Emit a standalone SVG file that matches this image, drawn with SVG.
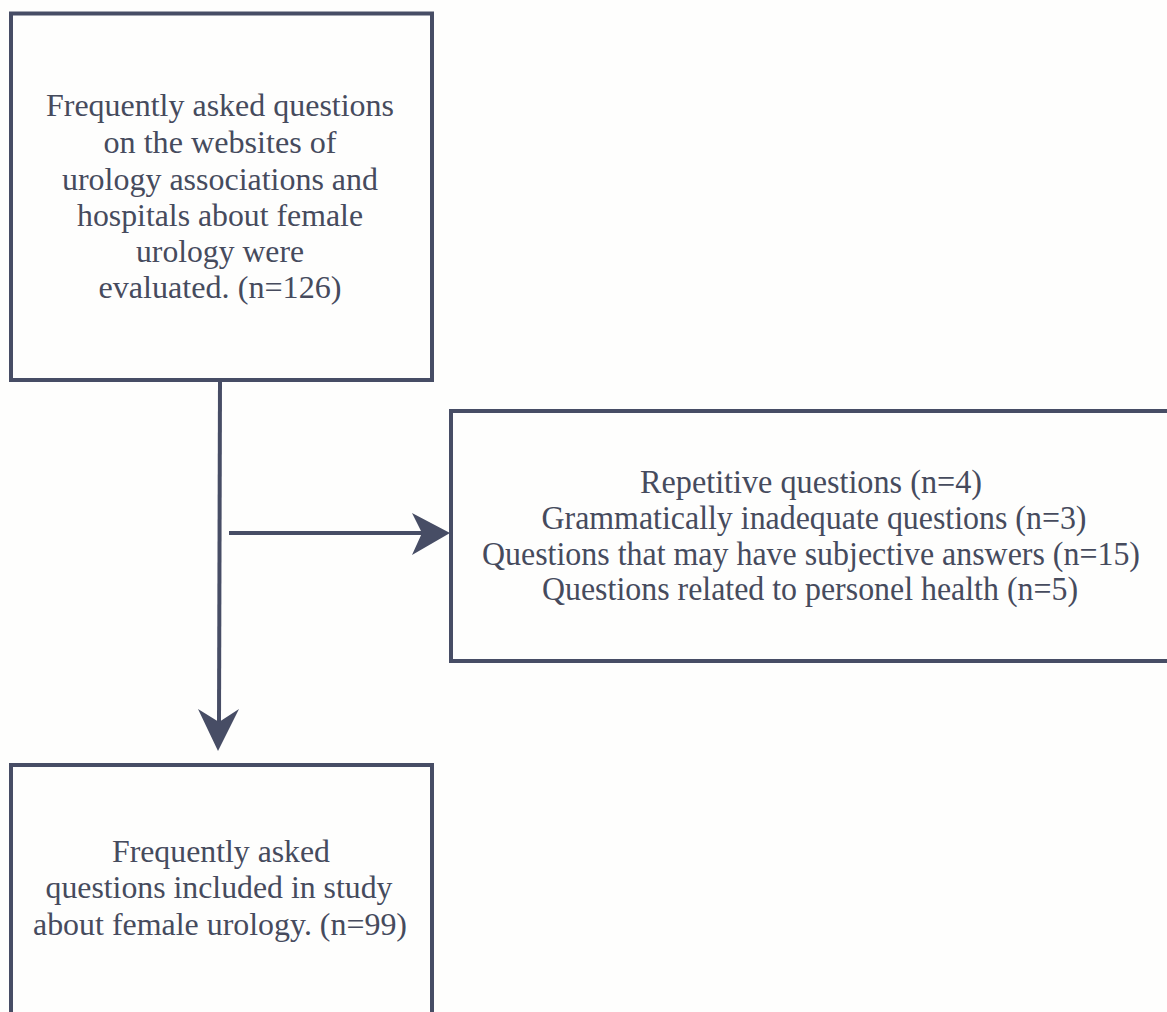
<svg xmlns="http://www.w3.org/2000/svg" width="1167" height="1012" viewBox="0 0 1167 1012">
<style>
.box{fill:#fefefd;stroke:#474d65;stroke-width:4}
.ln{stroke:#474d65;stroke-width:4;fill:none}
.hd{fill:#474d65;stroke:none}
</style>
<rect width="1167" height="1012" fill="#fefefd"/>
<g id="node-start">
<rect class="box" x="11" y="13.5" width="421" height="366.5"/>
<g font-family="Liberation Serif" font-size="31" fill="#464b5d" text-anchor="middle">
<text x="220" y="116" textLength="348" lengthAdjust="spacingAndGlyphs">Frequently asked questions</text>
<text x="220" y="153" textLength="233" lengthAdjust="spacingAndGlyphs">on the websites of</text>
<text x="220" y="190" textLength="316" lengthAdjust="spacingAndGlyphs">urology associations and</text>
<text x="220" y="226" textLength="286" lengthAdjust="spacingAndGlyphs">hospitals about female</text>
<text x="220" y="262" textLength="168" lengthAdjust="spacingAndGlyphs">urology were</text>
<text x="220" y="298" textLength="243" lengthAdjust="spacingAndGlyphs">evaluated. (n=126)</text>
</g>
</g>
<g id="node-excluded">
<rect class="box" x="451" y="411" width="730" height="250"/>
<g font-family="Liberation Serif" font-size="33" fill="#464b5d" text-anchor="middle">
<text x="811" y="493" textLength="342" lengthAdjust="spacingAndGlyphs">Repetitive questions (n=4)</text>
<text x="814" y="529" textLength="545" lengthAdjust="spacingAndGlyphs">Grammatically inadequate questions (n=3)</text>
<text x="811" y="565" textLength="658" lengthAdjust="spacingAndGlyphs">Questions that may have subjective answers (n=15)</text>
<text x="810" y="600" textLength="536" lengthAdjust="spacingAndGlyphs">Questions related to personel health (n=5)</text>
</g>
</g>
<g id="node-included">
<rect class="box" x="11" y="765" width="421" height="260"/>
<g font-family="Liberation Serif" font-size="31" fill="#464b5d" text-anchor="middle">
<text x="221" y="862" textLength="218" lengthAdjust="spacingAndGlyphs">Frequently asked</text>
<text x="219" y="898" textLength="347" lengthAdjust="spacingAndGlyphs">questions included in study</text>
<text x="220" y="935" textLength="374" lengthAdjust="spacingAndGlyphs">about female urology. (n=99)</text>
</g>
</g>
<g id="connectors">
<line class="ln" x1="220" y1="380" x2="219" y2="725"/>
<path class="hd" d="M198,709 L219,722 L239,709 L218,751 Z"/>
<line class="ln" x1="229" y1="533" x2="425" y2="533"/>
<path class="hd" d="M412,513 L422,533 L412,555 L450,533 Z"/>
</g>
</svg>
